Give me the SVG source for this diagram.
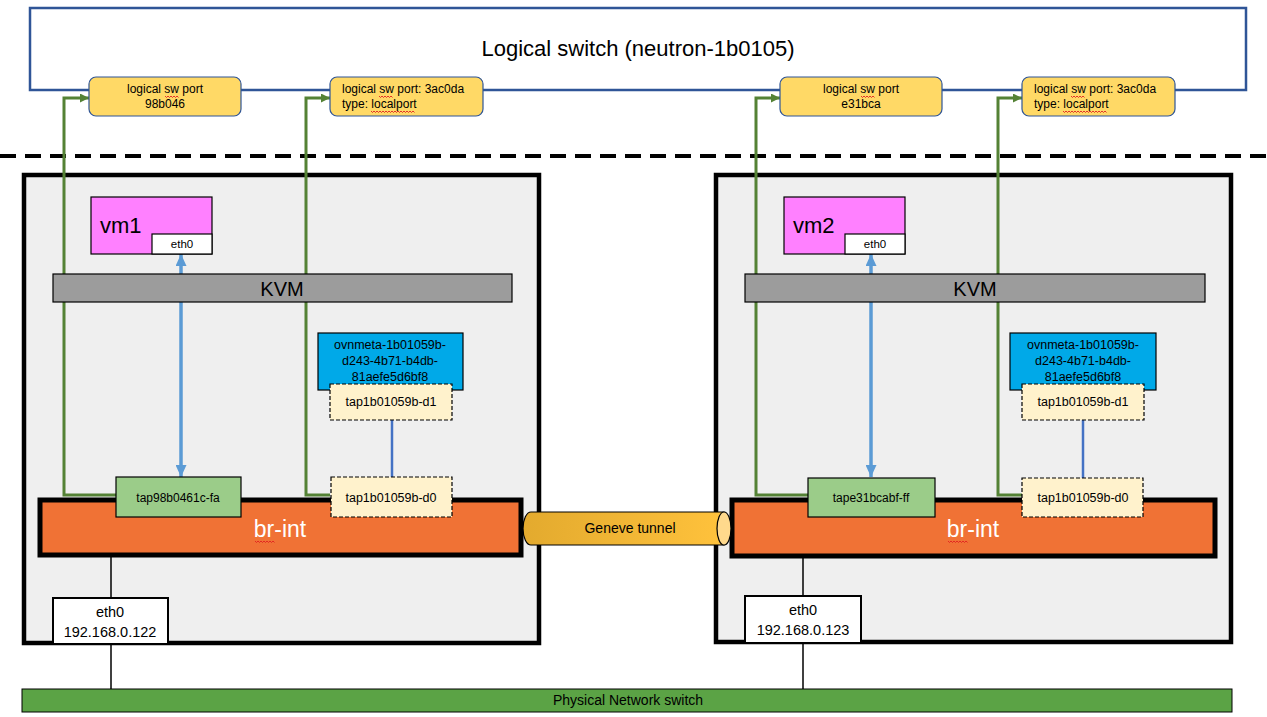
<svg xmlns="http://www.w3.org/2000/svg" width="1267" height="717" viewBox="0 0 1267 717">
<style>
text{font-family:"Liberation Sans",Arial,sans-serif;fill:#000}
.c{text-anchor:middle}
.ls{fill:none;stroke:#2F5597;stroke-width:2.5}
.port{fill:#FFD966;stroke:#2F5597;stroke-width:1.2}
.host{fill:#EFEFEF;stroke:#000;stroke-width:4.5}
.vm{fill:#FF80FF;stroke:#000;stroke-width:1.2}
.wbox{fill:#FFF;stroke:#000;stroke-width:1.2}
.kvm{fill:#9C9C9C;stroke:#000;stroke-width:1.2}
.meta{fill:#00A9E8;stroke:#000;stroke-width:1.2}
.tapd{fill:#FFF2CC;stroke:#000;stroke-width:1.2;stroke-dasharray:4 2}
.tapg{fill:#9BCC89;stroke:#000;stroke-width:1.2}
.br{fill:#F07235;stroke:#000;stroke-width:5}
.eth{fill:#FFF;stroke:#000;stroke-width:2}
.phys{fill:#5BA345;stroke:#000;stroke-width:1}
.g{fill:none;stroke:#548235;stroke-width:3}
.b{fill:none;stroke:#5B9BD5;stroke-width:3.5}
.bl{fill:none;stroke:#4472C4;stroke-width:2.5}
.k{fill:none;stroke:#000;stroke-width:1.5}
.spell{fill:none;stroke:#E02020;stroke-width:0.9}
.s12{font-size:12px}
</style>
<defs>
<marker id="ga" markerUnits="userSpaceOnUse" markerWidth="9" markerHeight="9" refX="9" refY="4.5" orient="auto"><path d="M0,0 L9,4.5 L0,9 z" fill="#548235"/></marker>
<marker id="ba" markerUnits="userSpaceOnUse" markerWidth="12" markerHeight="11" refX="12" refY="5.5" orient="auto-start-reverse"><path d="M0,0 L12,5.5 L0,11 z" fill="#5B9BD5"/></marker>
<linearGradient id="cyl" x1="0" y1="0" x2="1" y2="0"><stop offset="0" stop-color="#E3AA2E"/><stop offset="1" stop-color="#FFC23C"/></linearGradient>
</defs>

<g id="logical-switch">
<rect class="ls" x="30" y="8" width="1216" height="82"/>
<text class="c" x="638" y="56" font-size="22">Logical switch (neutron-1b0105)</text>
</g>

<line x1="0" y1="156" x2="1267" y2="156" stroke="#000" stroke-width="4" stroke-dasharray="16 9"/>

<g id="host1"><rect class="host" x="24" y="175" width="515" height="468"/></g>
<g id="host2"><rect class="host" x="716" y="175" width="515" height="467"/></g>

<g id="connectors">
<path class="g" d="M117,495 H64 V98 H89" marker-end="url(#ga)"/>
<path class="g" d="M330,495 H306 V98 H330" marker-end="url(#ga)"/>
<path class="g" d="M808,495 H756 V98 H780" marker-end="url(#ga)"/>
<path class="g" d="M1022,495 H998 V98 H1022" marker-end="url(#ga)"/>
<line class="b" x1="181" y1="254" x2="181" y2="477" marker-start="url(#ba)" marker-end="url(#ba)"/>
<line class="b" x1="871" y1="254" x2="871" y2="477" marker-start="url(#ba)" marker-end="url(#ba)"/>
<line class="bl" x1="392" y1="420" x2="392" y2="478"/>
<line class="bl" x1="1083" y1="420" x2="1083" y2="478"/>
<line class="k" x1="111" y1="556" x2="111" y2="689"/>
<line class="k" x1="803" y1="556" x2="803" y2="689"/>
</g>

<g id="port-98b046">
<rect class="port" x="89" y="77" width="152" height="39" rx="7"/>
<text class="c s12" x="165" y="93">logical sw port</text>
<text class="c s12" x="165" y="108">98b046</text>
<path class="spell" d="M165,96 l1.5,1.5 l1.5,-1.5 l1.5,1.5 l1.5,-1.5 l1.5,1.5 l1.5,-1.5 l1.5,1.5 l1.5,-1.5 l1.5,1.5"/>
</g>
<g id="port-3ac0da-1">
<rect class="port" x="330" y="77" width="153" height="39" rx="7"/>
<text class="s12" x="342" y="93">logical sw port: 3ac0da</text>
<text class="s12" x="342" y="108">type: localport</text>
<path class="spell" d="M379,96 l1.5,1.5 l1.5,-1.5 l1.5,1.5 l1.5,-1.5 l1.5,1.5 l1.5,-1.5 l1.5,1.5 l1.5,-1.5 l1.5,1.5"/>
<path class="spell" d="M371,111 l1.5,1.5 l1.5,-1.5 l1.5,1.5 l1.5,-1.5 l1.5,1.5 l1.5,-1.5 l1.5,1.5 l1.5,-1.5 l1.5,1.5 l1.5,-1.5 l1.5,1.5 l1.5,-1.5 l1.5,1.5 l1.5,-1.5 l1.5,1.5 l1.5,-1.5 l1.5,1.5 l1.5,-1.5 l1.5,1.5 l1.5,-1.5 l1.5,1.5 l1.5,-1.5 l1.5,1.5 l1.5,-1.5 l1.5,1.5 l1.5,-1.5 l1.5,1.5 l1.5,-1.5 l1.5,1.5"/>
</g>
<g id="port-e31bca">
<rect class="port" x="780" y="77" width="162" height="39" rx="7"/>
<text class="c s12" x="861" y="93">logical sw port</text>
<text class="c s12" x="861" y="108">e31bca</text>
<path class="spell" d="M861,96 l1.5,1.5 l1.5,-1.5 l1.5,1.5 l1.5,-1.5 l1.5,1.5 l1.5,-1.5 l1.5,1.5 l1.5,-1.5 l1.5,1.5"/>
</g>
<g id="port-3ac0da-2">
<rect class="port" x="1022" y="77" width="153" height="39" rx="7"/>
<text class="s12" x="1034" y="93">logical sw port: 3ac0da</text>
<text class="s12" x="1034" y="108">type: localport</text>
<path class="spell" d="M1071,96 l1.5,1.5 l1.5,-1.5 l1.5,1.5 l1.5,-1.5 l1.5,1.5 l1.5,-1.5 l1.5,1.5 l1.5,-1.5 l1.5,1.5"/>
<path class="spell" d="M1063,111 l1.5,1.5 l1.5,-1.5 l1.5,1.5 l1.5,-1.5 l1.5,1.5 l1.5,-1.5 l1.5,1.5 l1.5,-1.5 l1.5,1.5 l1.5,-1.5 l1.5,1.5 l1.5,-1.5 l1.5,1.5 l1.5,-1.5 l1.5,1.5 l1.5,-1.5 l1.5,1.5 l1.5,-1.5 l1.5,1.5 l1.5,-1.5 l1.5,1.5 l1.5,-1.5 l1.5,1.5 l1.5,-1.5 l1.5,1.5 l1.5,-1.5 l1.5,1.5 l1.5,-1.5 l1.5,1.5"/>
</g>

<g id="vm1">
<rect class="vm" x="91" y="197" width="121" height="57"/>
<text x="100" y="233" font-size="22">vm1</text>
<rect class="wbox" x="152" y="234" width="60" height="20"/>
<text class="c" x="182" y="248" font-size="11.5">eth0</text>
</g>
<g id="vm2">
<rect class="vm" x="784" y="197" width="121" height="57"/>
<text x="793" y="233" font-size="22">vm2</text>
<rect class="wbox" x="845" y="234" width="60" height="20"/>
<text class="c" x="875" y="248" font-size="11.5">eth0</text>
</g>

<g id="kvm1">
<rect class="kvm" x="53" y="274" width="459" height="28"/>
<text class="c" x="282" y="296" font-size="20">KVM</text>
</g>
<g id="kvm2">
<rect class="kvm" x="745" y="274" width="460" height="28"/>
<text class="c" x="975" y="296" font-size="20">KVM</text>
</g>

<g id="ovnmeta1">
<rect class="meta" x="318" y="333" width="145" height="57"/>
<text class="c" x="390" y="349" font-size="12.5">ovnmeta-1b01059b-</text>
<text class="c" x="390" y="365" font-size="12.5">d243-4b71-b4db-</text>
<text class="c" x="390" y="381" font-size="12.5">81aefe5d6bf8</text>
</g>
<g id="tap-d1-1">
<rect class="tapd" x="330" y="384" width="122" height="36"/>
<text class="c" x="391" y="406" font-size="12.5">tap1b01059b-d1</text>
</g>
<g id="ovnmeta2">
<rect class="meta" x="1010" y="333" width="146" height="57"/>
<text class="c" x="1083" y="349" font-size="12.5">ovnmeta-1b01059b-</text>
<text class="c" x="1083" y="365" font-size="12.5">d243-4b71-b4db-</text>
<text class="c" x="1083" y="381" font-size="12.5">81aefe5d6bf8</text>
</g>
<g id="tap-d1-2">
<rect class="tapd" x="1022" y="384" width="122" height="36"/>
<text class="c" x="1083" y="406" font-size="12.5">tap1b01059b-d1</text>
</g>

<g id="br-int1">
<rect class="br" x="40" y="500" width="481" height="55"/>
<text class="c" x="280" y="537" font-size="23" style="fill:#FFF">br-int</text>
<path class="spell" d="M255,541 l1.5,1.5 l1.5,-1.5 l1.5,1.5 l1.5,-1.5 l1.5,1.5 l1.5,-1.5 l1.5,1.5 l1.5,-1.5 l1.5,1.5 l1.5,-1.5 l1.5,1.5 l1.5,-1.5 l1.5,1.5"/>
</g>
<g id="br-int2">
<rect class="br" x="732" y="500" width="483" height="56"/>
<text class="c" x="973" y="537" font-size="23" style="fill:#FFF">br-int</text>
<path class="spell" d="M948,541 l1.5,1.5 l1.5,-1.5 l1.5,1.5 l1.5,-1.5 l1.5,1.5 l1.5,-1.5 l1.5,1.5 l1.5,-1.5 l1.5,1.5 l1.5,-1.5 l1.5,1.5 l1.5,-1.5 l1.5,1.5"/>
</g>

<g id="tap98b0461c-fa">
<rect class="tapg" x="116" y="477" width="125" height="40"/>
<text class="c s12" x="178" y="502">tap98b0461c-fa</text>
</g>
<g id="tap-d0-1">
<rect class="tapd" x="331" y="477" width="121" height="40"/>
<text class="c" x="391" y="502" font-size="12.5">tap1b01059b-d0</text>
</g>
<g id="tape31bcabf-ff">
<rect class="tapg" x="808" y="478" width="127" height="39"/>
<text class="c s12" x="871" y="502">tape31bcabf-ff</text>
</g>
<g id="tap-d0-2">
<rect class="tapd" x="1022" y="478" width="121" height="39"/>
<text class="c" x="1083" y="502" font-size="12.5">tap1b01059b-d0</text>
</g>

<g id="geneve-tunnel">
<path d="M531,512 H724 V545 H531 A8,16.5 0 0 1 531,512 Z" fill="url(#cyl)" stroke="#000" stroke-width="1.2"/>
<ellipse cx="724" cy="528.5" rx="7" ry="16.5" fill="#FFD98C" stroke="#000" stroke-width="1.2"/>
<text class="c" x="630" y="533" font-size="14">Geneve tunnel</text>
</g>

<g id="eth0-host1">
<rect class="eth" x="53" y="598" width="115" height="46"/>
<text class="c" x="110" y="617" font-size="14.5">eth0</text>
<text class="c" x="110" y="637" font-size="14.5">192.168.0.122</text>
</g>
<g id="eth0-host2">
<rect class="eth" x="745" y="596" width="116" height="47"/>
<text class="c" x="803" y="615" font-size="14.5">eth0</text>
<text class="c" x="803" y="635" font-size="14.5">192.168.0.123</text>
</g>

<g id="physical-switch">
<rect class="phys" x="22" y="689" width="1210" height="23"/>
<text class="c" x="628" y="705" font-size="14">Physical Network switch</text>
</g>
</svg>
